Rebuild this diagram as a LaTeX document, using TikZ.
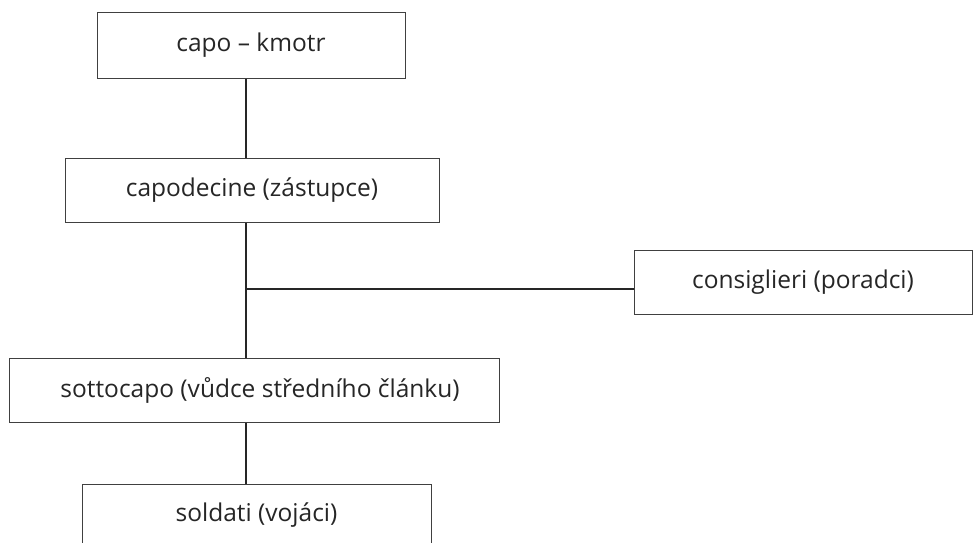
\documentclass[tikz,border=0pt]{standalone}
\usepackage{fontspec}
\setmainfont{Open Sans}
\usepackage{tikz}
\usetikzlibrary{positioning}

\tikzset{
  rank/.style={draw=black!75, line width=1pt, inner sep=0pt, minimum height=64pt,
    font=\fontsize{24.5}{29}\selectfont, text=black!85},
  link/.style={black!85, line width=1.2pt}
}

\begin{document}
\begin{tikzpicture}[x=1pt, y=-1pt]
		\clip (0,0) rectangle (973,542);
		\fill[white] (0,0) rectangle (973,542);
		% ranks of the family
		\node[rank, minimum width=308pt, minimum height=66pt] (capo) at (251,45) {capo -- kmotr};
		\node[rank, minimum width=374pt] (capodecine) at (252,190) {capodecine (zástupce)};
		\node[rank, minimum width=338pt] (consiglieri) at (803,282) {consiglieri (poradci)};
		\node[rank, minimum width=490pt] (sottocapo) at (254,390) {\hspace*{12pt}sottocapo (vůdce středního článku)};
		\node[rank, minimum width=349pt, minimum height=62pt] (soldati) at (256.5,515) {soldati (vojáci)};
		\coordinate (j) at (246,289);
		% connectors
		\draw[link] (capo.south -| j) -- (capodecine.north -| j);
		\draw[link] (capodecine.south -| j) -- (sottocapo.north -| j);
		\draw[link] (j) -- (consiglieri.west |- j);
		\draw[link] (sottocapo.south -| j) -- (soldati.north -| j);
	\end{tikzpicture}
\end{document}
